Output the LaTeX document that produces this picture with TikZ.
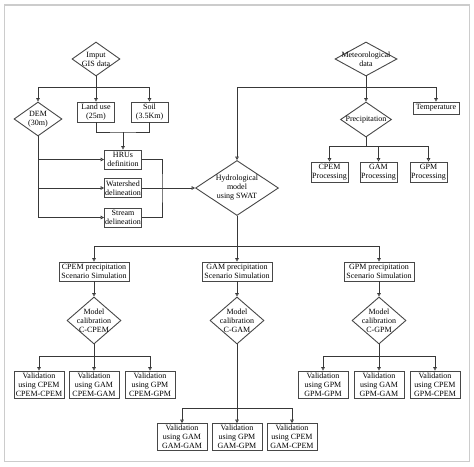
\documentclass[tikz,border=0pt]{standalone}
\usepackage{fontspec}
\setmainfont{Liberation Serif}
\usetikzlibrary{shapes.geometric, arrows.meta}
\tikzset{
  box/.style={draw=black!72, line width=0.9pt, inner sep=0pt, align=center, font=\fontsize{8}{9}\selectfont},
  dmd/.style={draw=black!72, line width=0.9pt, diamond, inner sep=0pt},
  txt/.style={inner sep=0pt, align=center, font=\fontsize{8}{9}\selectfont},
  con/.style={draw=black!78, line width=0.7pt},
  arr/.style={con, -{Triangle[open, length=3.4pt, width=3.6pt]}},
}
\begin{document}
\begin{tikzpicture}[x=1pt, y=-1pt]
    \useasboundingbox (0,0) rectangle (474,466);
    \draw[black!20, line width=1.2pt] (4.5,5) rectangle (469.5,461.5); %外框
    % 输入数据
    \node[dmd, minimum width=48pt, minimum height=34pt] (gis) at (96,59) {};
    \node[txt] (gist) at (gis) {Imput\\GIS data};
    \node[dmd, minimum width=48pt, minimum height=34pt] (dem) at (38,119) {};
    \node[txt] (demt) at (dem) {DEM\\(30m)};
    \node[box, minimum width=37pt, minimum height=20pt] (lu) at (96,112) {Land use\\(25m)};
    \node[box, minimum width=37pt, minimum height=20pt] (soil) at (149.5,112) {Soil\\(3.5Km)};
    \node[box, minimum width=37pt, minimum height=19pt] (hru) at (123,159.5) {HRUs\\definition};
    \node[box, minimum width=37pt, minimum height=19pt] (ws) at (123,188) {Watershed\\delineation};
    \node[box, minimum width=37pt, minimum height=19pt] (st) at (123,217.5) {Stream\\delineation};
    % 气象数据
    \node[dmd, minimum width=62pt, minimum height=34pt] (met) at (366,59) {};
    \node[txt] (mett) at (met) {Meteorological\\data};
    \node[dmd, minimum width=51pt, minimum height=35pt] (pre) at (366,119.5) {};
    \node[txt] (pret) at (pre) {Precipitation};
    \node[box, minimum width=46pt, minimum height=12pt] (temp) at (436,108) {Temperature};
    \node[box, minimum width=37pt, minimum height=20pt] (cp) at (329.5,172) {CPEM\\Processing};
    \node[box, minimum width=37pt, minimum height=20pt] (gap) at (378.5,172) {GAM\\Processing};
    \node[box, minimum width=37pt, minimum height=20pt] (gpp) at (428.5,172) {GPM\\Processing};
    % 水文模型
    \node[dmd, minimum width=83pt, minimum height=55pt] (hyd) at (237,188) {};
    \node[txt] (hydt) at (hyd) {Hydrological\\model\\using SWAT};
    % 情景模拟与率定
    \node[box, minimum width=70pt, minimum height=19pt] (sc1) at (94,271.5) {CPEM precipitation\\Scenario Simulation};
    \node[box, minimum width=70pt, minimum height=19pt] (sc2) at (237,271.5) {GAM precipitation\\Scenario Simulation};
    \node[box, minimum width=70pt, minimum height=19pt] (sc3) at (379,271.5) {GPM precipitation\\Scenario Simulation};
    \node[dmd, minimum width=54pt, minimum height=47pt] (cal1) at (94,320.5) {};
    \node[txt] (cal1t) at (cal1) {Model\\calibration\\C-CPEM};
    \node[dmd, minimum width=54pt, minimum height=47pt] (cal2) at (237,320.5) {};
    \node[txt] (cal2t) at (cal2) {Model\\calibration\\C-GAM};
    \node[dmd, minimum width=54pt, minimum height=47pt] (cal3) at (379,320.5) {};
    \node[txt] (cal3t) at (cal3) {Model\\calibration\\C-GPM};
    % 验证
    \node[box, minimum width=50pt, minimum height=27pt] (v11) at (39,384.5) {Validation\\using CPEM\\CPEM-CPEM};
    \node[box, minimum width=50pt, minimum height=27pt] (v12) at (94,384.5) {Validation\\using GAM\\CPEM-GAM};
    \node[box, minimum width=50pt, minimum height=27pt] (v13) at (150,384.5) {Validation\\using GPM\\CPEM-GPM};
    \node[box, minimum width=50pt, minimum height=27pt] (v21) at (182,437) {Validation\\using GAM\\GAM-GAM};
    \node[box, minimum width=50pt, minimum height=27pt] (v22) at (237,437) {Validation\\using GPM\\GAM-GPM};
    \node[box, minimum width=50pt, minimum height=27pt] (v23) at (292,437) {Validation\\using CPEM\\GAM-CPEM};
    \node[box, minimum width=50pt, minimum height=27pt] (v31) at (323,384.5) {Validation\\using GPM\\GPM-GPM};
    \node[box, minimum width=50pt, minimum height=27pt] (v32) at (379,384.5) {Validation\\using GAM\\GPM-GAM};
    \node[box, minimum width=50pt, minimum height=27pt] (v33) at (435,384.5) {Validation\\using CPEM\\GPM-CPEM};
    % 分支点
    \coordinate (g1) at (96,87);
    \coordinate (h1) at (123,132);
    \coordinate (r1) at (162,188);
    \coordinate (m1) at (366,87);
    \coordinate (p1) at (366,146);
    \coordinate (s1) at (237,246);
    \coordinate (c1) at (94,356);
    \coordinate (c2) at (237,408);
    \coordinate (c3) at (379,356);
    % 连线
    \draw[arr] (gis.south) -- (g1) -| (dem.north);
    \draw[arr] (g1) -- (lu.north);
    \draw[arr] (g1) -| (soil.north);
    \draw[con] (lu.south) |- (h1) -| (soil.south);
    \draw[arr] (h1) -- (hru.north);
    \draw[arr] (dem.south) |- (st.west);
    \draw[arr] (dem.south |- hru.west) -- (hru.west);
    \draw[arr] (dem.south |- ws.west) -- (ws.west);
    \draw[con] (hru.east) -| (r1) |- (st.east);
    \draw[arr] (ws.east) -- (hyd.west);
    \draw[arr] (met.south) -- (pre.north);
    \draw[arr] (m1) -| (hyd.north);
    \draw[arr] (m1) -| (temp.north);
    \draw[con] (pre.south) -- (p1);
    \draw[arr] (p1) -| (cp.north);
    \draw[arr] (p1) -| (gap.north);
    \draw[arr] (p1) -| (gpp.north);
    \draw[arr] (hyd.south) -- (s1) -| (sc1.north);
    \draw[arr] (s1) -- (sc2.north);
    \draw[arr] (s1) -| (sc3.north);
    \draw[arr] (sc1.south) -- (cal1.north);
    \draw[arr] (sc2.south) -- (cal2.north);
    \draw[arr] (sc3.south) -- (cal3.north);
    \draw[arr] (cal1.south) -- (c1) -| (v11.north);
    \draw[arr] (c1) -- (v12.north);
    \draw[arr] (c1) -| (v13.north);
    \draw[arr] (cal2.south) -- (c2) -| (v21.north);
    \draw[arr] (c2) -- (v22.north);
    \draw[arr] (c2) -| (v23.north);
    \draw[arr] (cal3.south) -- (c3) -| (v31.north);
    \draw[arr] (c3) -- (v32.north);
    \draw[arr] (c3) -| (v33.north);
\end{tikzpicture}
\end{document}
